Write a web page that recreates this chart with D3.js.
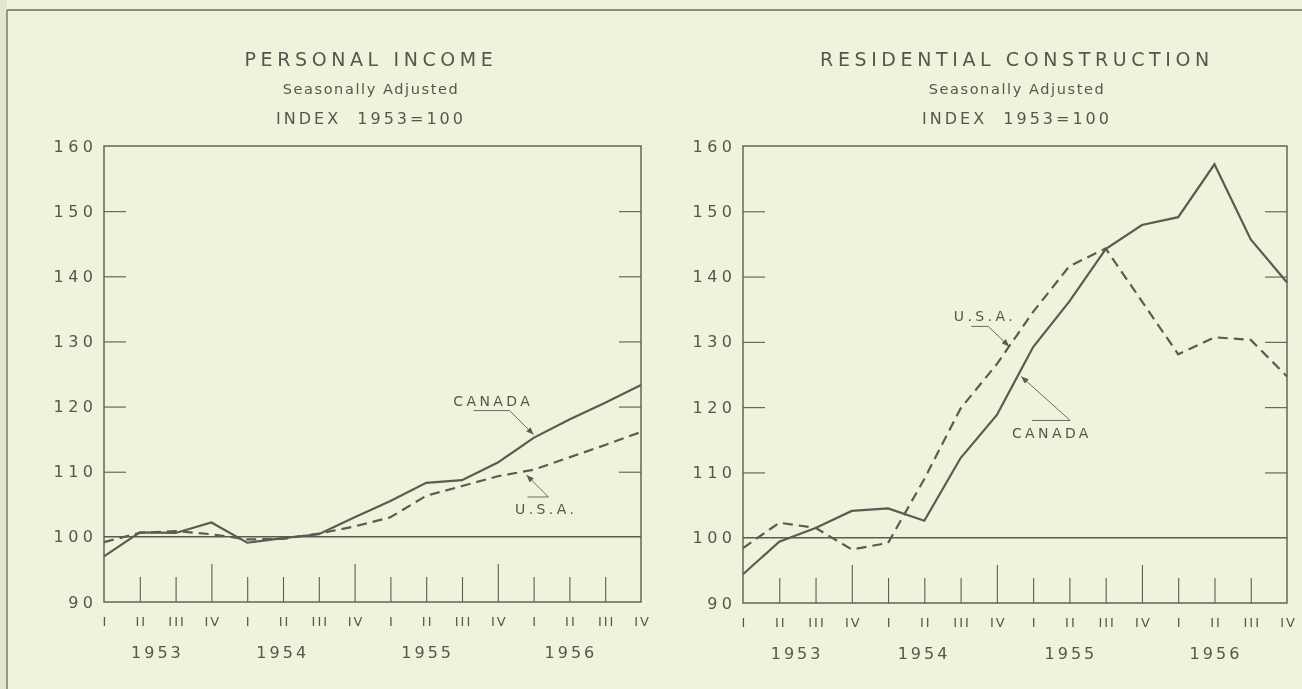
<!DOCTYPE html>
<html>
<head>
<meta charset="utf-8">
<script src="https://cdn.jsdelivr.net/npm/d3@7"></script>
<style>
  body { margin: 0; background: #f1f2dc; }
  svg { will-change: transform; }
  text { font-family: "DejaVu Sans", sans-serif; fill: #56564d; }
</style>
</head>
<body>
<svg id="chart" width="1302" height="689"></svg>
<script>
// quarters 1953 I .. 1956 IV
const quarterLabels = ["I", "II", "III", "IV", "I", "II", "III", "IV", "I", "II", "III", "IV", "I", "II", "III", "IV"];
const yearLabels = ["1953", "1954", "1955", "1956"];
const yTickValues = [90, 100, 110, 120, 130, 140, 150, 160];

const incomeCanada = [97.0, 100.7, 100.6, 102.2, 99.1, 99.8, 100.4, 103.0, 105.5, 108.3, 108.7, 111.4, 115.2, 118.0, 120.6, 123.3];
const incomeUSA = [99.2, 100.6, 100.9, 100.4, 99.6, 99.7, 100.5, 101.6, 103.0, 106.3, 107.8, 109.3, 110.3, 112.2, 114.1, 116.1];
const constructionCanada = [94.4, 99.4, 101.5, 104.1, 104.5, 102.6, 112.2, 118.8, 129.2, 136.2, 144.2, 147.9, 149.1, 157.2, 145.7, 139.1];
const constructionUSA = [98.4, 102.3, 101.5, 98.2, 99.2, 109.0, 119.8, 126.6, 134.6, 141.6, 144.3, 136.2, 128.1, 130.7, 130.3, 124.7];

const ink = "#5b5b52";

const svg = d3.select("#chart");

// scanned page frame
svg.append("rect").attr("x", 0).attr("y", 0).attr("width", 7).attr("height", 689).attr("fill", "#e4e5d0");
svg.append("line").attr("x1", 7).attr("x2", 1302).attr("y1", 10).attr("y2", 10)
  .attr("stroke", "#6a6a60").attr("stroke-width", 1.3);
svg.append("line").attr("x1", 7).attr("x2", 7).attr("y1", 10).attr("y2", 689)
  .attr("stroke", "#6a6a60").attr("stroke-width", 1.3);

svg.append("defs").append("marker")
    .attr("id", "arrow")
    .attr("viewBox", "0 -4 10 8")
    .attr("refX", 10)
    .attr("refY", 0)
    .attr("markerWidth", 8)
    .attr("markerHeight", 6)
    .attr("markerUnits", "userSpaceOnUse")
    .attr("orient", "auto")
  .append("path")
    .attr("d", "M0,-4L10,0L0,4Z")
    .attr("fill", ink);

const panels = [
  {
    title: "PERSONAL INCOME", canada: incomeCanada, usa: incomeUSA,
    left: 104, right: 641, top: 146, bottom: 602, cx: 371,
    notes: [
      { text: "CANADA", tip: [12, 115.7], path: [[-60, -24], [-24, -24], [0, 0]], label: [-42, -33] },
      { text: "U.S.A.", tip: [11.8, 109.5], path: [[1, 22], [22, 22], [0, 0]], label: [18, 34] }
    ]
  },
  {
    title: "RESIDENTIAL CONSTRUCTION", canada: constructionCanada, usa: constructionUSA,
    left: 743, right: 1287, top: 146, bottom: 603, cx: 1017,
    notes: [
      { text: "U.S.A.", tip: [7.34, 129.3], path: [[-38, -20], [-21, -20], [0, 0]], label: [-26, -30] },
      { text: "CANADA", tip: [7.67, 124.7], path: [[11, 44], [49, 44], [0, 0]], label: [29, 57] }
    ]
  }
];

panels.forEach(function(p) {
  const g = svg.append("g").attr("color", ink);

  const x = d3.scaleLinear().domain([0, quarterLabels.length - 1]).range([p.left, p.right]);
  const y = d3.scaleLinear().domain([90, 160]).range([p.bottom, p.top]);

  // titles
  g.append("text").attr("x", p.cx).attr("y", 66).attr("text-anchor", "middle")
    .style("font-size", "19px").style("letter-spacing", "4.6px").text(p.title);
  g.append("text").attr("x", p.cx).attr("y", 94).attr("text-anchor", "middle")
    .style("font-size", "14.5px").style("letter-spacing", "1.6px").text("Seasonally Adjusted");
  g.append("text").attr("x", p.cx).attr("y", 124).attr("text-anchor", "middle")
    .style("font-size", "16px").style("letter-spacing", "3px").attr("xml:space", "preserve")
    .text("INDEX  1953=100");

  // y labels
  const yLab = g.append("g").attr("transform", "translate(" + p.left + ",0)")
    .call(d3.axisLeft(y).tickValues(yTickValues).tickSize(0).tickPadding(11));
  yLab.select(".domain").remove();
  yLab.selectAll("text").attr("dx", "4.5px").attr("fill", "#56564d")
    .style("font-size", "16px").style("letter-spacing", "4.5px").style("font-family", null);

  // inner ticks left and right
  const inner = yTickValues.filter(v => v > 100 && v < 160);
  const lt = g.append("g").attr("transform", "translate(" + p.left + ",0)")
    .call(d3.axisLeft(y).tickValues(inner).tickSizeInner(-22).tickSizeOuter(0).tickFormat(""));
  const rt = g.append("g").attr("transform", "translate(" + p.right + ",0)")
    .call(d3.axisRight(y).tickValues(inner).tickSizeInner(-22).tickSizeOuter(0).tickFormat(""));
  lt.select(".domain").remove();
  rt.select(".domain").remove();

  // quarter ticks rising from the base
  const yearEnds = [3, 7, 11];
  const shortTicks = d3.range(1, quarterLabels.length - 1).filter(i => yearEnds.indexOf(i) < 0);
  const bs = g.append("g").attr("transform", "translate(0," + p.bottom + ")")
    .call(d3.axisBottom(x).tickValues(shortTicks).tickSizeInner(-25).tickSizeOuter(0).tickFormat(""));
  const bl = g.append("g").attr("transform", "translate(0," + p.bottom + ")")
    .call(d3.axisBottom(x).tickValues(yearEnds).tickSizeInner(-38).tickSizeOuter(0).tickFormat(""));
  bs.select(".domain").remove();
  bl.select(".domain").remove();
  g.selectAll(".tick line").attr("stroke-width", 1.1);

  // quarter numerals
  const qn = g.append("g").attr("transform", "translate(0," + p.bottom + ")")
    .call(d3.axisBottom(x).tickValues(d3.range(quarterLabels.length)).tickSize(0).tickPadding(15)
      .tickFormat(i => quarterLabels[i]));
  qn.select(".domain").remove();
  qn.selectAll("text").attr("dx", "1px").attr("fill", "#56564d")
    .style("font-size", "13px").style("letter-spacing", "2px").style("font-family", null);

  // years
  const yearAt = [1.45, 4.95, 9, 13];
  g.selectAll(".year").data(yearLabels).enter().append("text")
    .attr("class", "year")
    .attr("x", (d, i) => x(yearAt[i]) + 1.5)
    .attr("y", p.bottom + 56)
    .attr("text-anchor", "middle")
    .style("font-size", "16px").style("letter-spacing", "3px")
    .text(d => d);

  // frame and 100 line
  g.append("rect")
    .attr("x", p.left).attr("y", p.top)
    .attr("width", p.right - p.left).attr("height", p.bottom - p.top)
    .attr("fill", "none").attr("stroke", ink).attr("stroke-width", 1.4);
  g.append("line")
    .attr("x1", p.left).attr("x2", p.right).attr("y1", y(100)).attr("y2", y(100))
    .attr("stroke", ink).attr("stroke-width", 1.5);

  const line = d3.line().x((d, i) => x(i)).y(d => y(d));

  g.append("path").datum(p.usa)
    .attr("d", line)
    .attr("fill", "none").attr("stroke", ink).attr("stroke-width", 2.2)
    .attr("stroke-dasharray", "10,6");
  g.append("path").datum(p.canada)
    .attr("d", line)
    .attr("fill", "none").attr("stroke", ink).attr("stroke-width", 2.2);

  // labels with leader arrows
  p.notes.forEach(function(n) {
    const tx = x(n.tip[0]), ty = y(n.tip[1]);
    g.append("path")
      .attr("d", d3.line()(n.path.map(q => [tx + q[0], ty + q[1]])))
      .attr("fill", "none").attr("stroke", ink).attr("stroke-width", 0.9)
      .attr("marker-end", "url(#arrow)");
    g.append("text")
      .attr("x", tx + n.label[0] + 1.7).attr("y", ty + n.label[1]).attr("dy", "0.35em")
      .attr("text-anchor", "middle")
      .style("font-size", "14px").style("letter-spacing", "3.4px")
      .text(n.text);
  });
});
</script>
</body>
</html>
